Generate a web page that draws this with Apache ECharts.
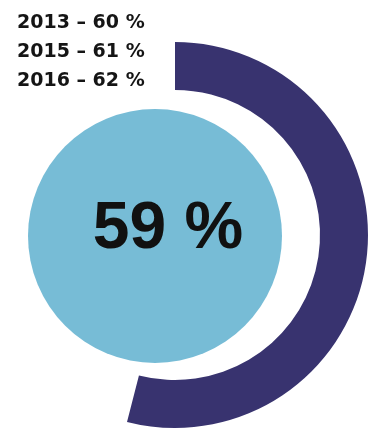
<!DOCTYPE html>
<html>
<head>
<meta charset="utf-8">
<script src="https://cdn.jsdelivr.net/npm/echarts@6/dist/echarts.min.js"></script>
<style>html,body{margin:0;padding:0;background:#fff;}#c{width:384px;height:447px;}</style>
</head>
<body>
<div id="c"></div>
<script>
const years = ['2013', '2015', '2016'];
const yearValues = [60, 61, 62];
const currentValue = 59;
const arcValue = 54;   // share of the ring drawn
const arcTotal = 100;

const chart = echarts.init(document.getElementById('c'), null, {renderer: 'canvas'});
const legendText = years.map((y, i) => y + ' – ' + yearValues[i] + ' %').join('\n');

chart.setOption({
  animation: false,
  backgroundColor: '#ffffff',
  title: {
    text: legendText,
    left: 12,
    top: 4,
    textStyle: {
      fontFamily: 'DejaVu Sans',
      fontWeight: 'bold',
      fontSize: 19,
      lineHeight: 29,
      color: '#151515'
    }
  },
  series: [
    {
      type: 'pie',
      silent: true,
      center: [175, 235],
      radius: [145, 193],
      startAngle: 90,
      clockwise: true,
      label: {show: false},
      labelLine: {show: false},
      data: [
        {value: arcValue, itemStyle: {color: '#38336f'}},
        {value: arcTotal - arcValue, itemStyle: {color: 'rgba(0,0,0,0)'}}
      ]
    },
    {
      type: 'pie',
      silent: true,
      center: [155, 236],
      radius: [0, 127],
      label: {
        show: true,
        position: 'center',
        formatter: '{c} %',
        fontFamily: 'Liberation Sans',
        fontWeight: 'bold',
        fontSize: 66,
        color: '#111111',
        offset: [13, -6]
      },
      labelLine: {show: false},
      data: [{value: currentValue, itemStyle: {color: '#77bcd6'}}]
    }
  ]
});
</script>
</body>
</html>
